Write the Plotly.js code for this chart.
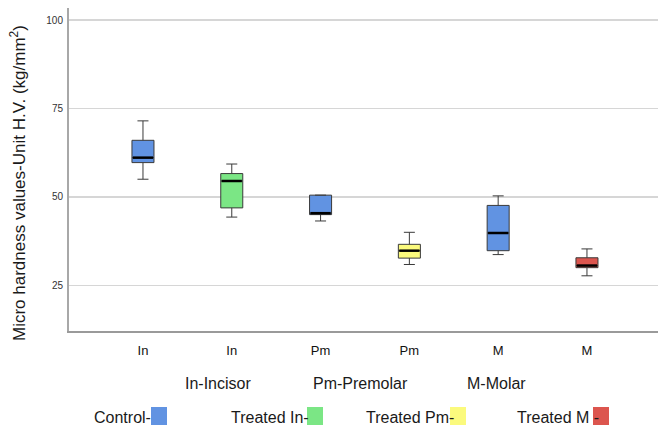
<!DOCTYPE html>
<html>
<head>
<meta charset="utf-8">
<script src="https://cdn.plot.ly/plotly-3.0.1.min.js"></script>
<style>html,body{margin:0;padding:0;background:#fff;}#chart{width:658px;height:427px;}</style>
</head>
<body>
<div id="chart"></div>
<script>
// ---- data ----
const tickLabels = ["In", "In", "Pm", "Pm", "M", "M"];
const groups = ["Control In", "Treated In", "Control Pm", "Treated Pm", "Control M", "Treated M"];
const lowerWhisker = [55.0, 44.3, 43.2, 30.9, 33.7, 27.7];
const q1Values     = [59.7, 46.9, 45.0, 32.7, 34.8, 30.0];
const medianValues = [61.1, 54.5, 45.4, 34.8, 39.8, 30.6];
const q3Values     = [66.0, 56.6, 50.5, 36.6, 47.6, 32.8];
const upperWhisker = [71.5, 59.3, 50.5, 40.0, 50.3, 35.3];
const boxColors = ["#6193e2", "#7be685", "#6193e2", "#fbfa7d", "#6193e2", "#dc554e"];
const yTicks = [25, 50, 75, 100];
const abbrevNotes = ["In-Incisor", "Pm-Premolar", "M-Molar"];
const legendLabels = ["Control-", "Treated In-", "Treated Pm-", "Treated M -"];
const legendColors = ["#6193e2", "#7be685", "#fbfa7d", "#dc554e"];

// ---- layout geometry ----
const W = 658, H = 427;
const M = {l: 69, r: 0, t: 8, b: 96};
const PW = W - M.l - M.r, PH = H - M.t - M.b;
const px = x => (x - M.l) / PW;
const py = y => (H - M.b - y) / PH;
const boxW = 0.248;
const font = "Liberation Sans, Arial, sans-serif";

const xs = tickLabels.map((_, i) => i);
const traces = [];
xs.forEach(i => {
  traces.push({
    type: "box",
    name: groups[i],
    x: [i],
    q1: [q1Values[i]],
    median: [medianValues[i]],
    q3: [q3Values[i]],
    lowerfence: [lowerWhisker[i]],
    upperfence: [upperWhisker[i]],
    width: boxW,
    whiskerwidth: 0.5,
    fillcolor: boxColors[i],
    line: {color: "#3a3a3a", width: 1},
    boxpoints: false,
    showlegend: false,
    hoverinfo: "y"
  });
});
// thick black median bars
xs.forEach(i => {
  traces.push({
    type: "scatter",
    mode: "lines",
    x: [i - boxW / 2 + 0.01, i + boxW / 2 - 0.01],
    y: [medianValues[i], medianValues[i]],
    line: {color: "#000", width: 2.5},
    showlegend: false,
    hoverinfo: "skip"
  });
});

const annotations = [];
annotations.push({
  xref: "paper", yref: "paper", x: px(18), y: py(183),
  text: "Micro hardness values-Unit H.V. (kg/mm<sup>2</sup>)",
  textangle: -90, showarrow: false, xanchor: "center", yanchor: "middle",
  font: {family: font, size: 17, color: "#1a1a1a"}
});
const noteX = [183, 311, 465];
abbrevNotes.forEach((t, k) => annotations.push({
  xref: "paper", yref: "paper", x: px(noteX[k]), y: py(383),
  text: t, showarrow: false, xanchor: "left", yanchor: "middle",
  font: {family: font, size: 16, color: "#1a1a1a"}
}));
const legTextX = [92, 229, 364, 515];
const legSqX = [151, 307, 450, 593];
const shapes = [];
legendLabels.forEach((t, k) => {
  annotations.push({
    xref: "paper", yref: "paper", x: px(legTextX[k]), y: py(417),
    text: t, showarrow: false, xanchor: "left", yanchor: "middle",
    font: {family: font, size: 16, color: "#1a1a1a"}
  });
  shapes.push({
    type: "rect", xref: "paper", yref: "paper",
    x0: px(legSqX[k]), x1: px(legSqX[k] + 16),
    y0: py(425), y1: py(407),
    fillcolor: legendColors[k], line: {width: 0}
  });
});

const layout = {
  width: W, height: H,
  margin: M,
  paper_bgcolor: "#fff", plot_bgcolor: "#fff",
  showlegend: false,
  font: {family: font, color: "#222"},
  xaxis: {
    range: [-0.833, 5.8],
    tickvals: xs, ticktext: tickLabels,
    showgrid: false, zeroline: false,
    showline: true, linecolor: "#9a9a9a", linewidth: 2,
    ticks: "", ticklabelstandoff: 6,
    tickfont: {family: font, size: 13, color: "#111"},
    fixedrange: true
  },
  yaxis: {
    range: [12.1, 103.4],
    tickvals: yTicks,
    showgrid: true, gridcolor: "#d6d6d6", gridwidth: 1.5,
    zeroline: false,
    showline: true, linecolor: "#a8a8a8", linewidth: 2,
    ticks: "", ticklabelstandoff: 2,
    tickfont: {family: font, size: 10, color: "#333"},
    fixedrange: true
  },
  annotations: annotations,
  shapes: shapes
};

Plotly.newPlot("chart", traces, layout, {displayModeBar: false, staticPlot: true});
</script>
</body>
</html>
